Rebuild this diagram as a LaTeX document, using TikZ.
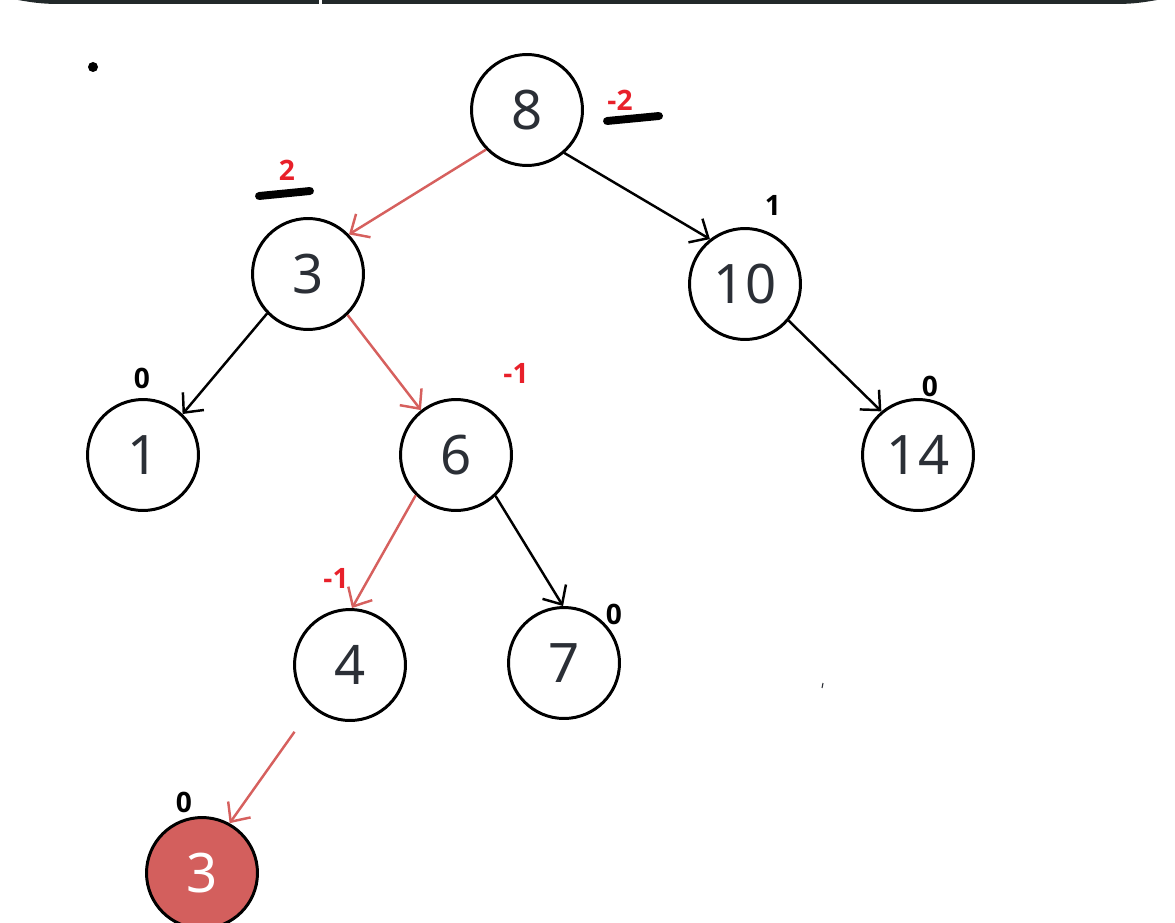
\documentclass[tikz,border=0pt]{standalone}
\usepackage{fontspec}
\setmainfont{Noto Sans}
\newfontfamily\balfont{Open Sans}
\usetikzlibrary{arrows.meta}
\definecolor{inkdark}{RGB}{43, 47, 54}
\definecolor{edgered}{RGB}{214, 96, 94}
\definecolor{fillred}{RGB}{211, 95, 93}
\definecolor{labelred}{RGB}{232, 32, 42}
\definecolor{topbar}{RGB}{34, 41, 42}

\begin{document}
\begin{tikzpicture}[
    x=0.02cm, y=-0.02cm,
    treenode/.style={draw, circle, line width=1.7pt, minimum size=2.22cm,
                     inner sep=0pt, text=inkdark,
                     font=\fontsize{31}{36}\selectfont},
    bal/.style={font=\balfont\bfseries\fontsize{16}{18}\selectfont, inner sep=0pt},
    edge/.style={line width=1.4pt, -{Straight Barb[length=3mm,width=5.5mm]}},
    penstroke/.style={line width=4.5pt, line cap=round},
  ]
    \useasboundingbox (0,0) rectangle (1175,922);
    \begin{scope}
    \clip (0,0) rectangle (1175,922);

    % top bar
    \fill[topbar] (18,0) .. controls (30,2) and (40,4) .. (60,4)
      -- (1115,4) .. controls (1135,4) and (1145,2) .. (1157,0) -- cycle;
    \fill[white] (319,0) rectangle (322,4);
    \fill (93,67) circle (5);
    \draw[line width=0.6pt, inkdark] (823,683) -- (822,688);

    % nodes
    \node[treenode] (n8)  at (527,110) {8};
    \node[treenode] (n3)  at (308,274) {3};
    \node[treenode] (n10) at (745,284) {10};
    \node[treenode] (n1)  at (143,455) {1};
    \node[treenode] (n6)  at (456,455) {6};
    \node[treenode] (n14) at (918,455) {14};
    \node[treenode] (n4)  at (350,665) {4};
    \node[treenode] (n7)  at (564,663) {7};
    \node[treenode, fill=fillred, text=white] (n3new) at (202,873) {3};

    % balance factors
    \node[bal, text=labelred] (b8)  at (620,100) {-2};
    \node[bal, text=labelred] (b3)  at (287,170) {2};
    \node[bal] (b10) at (773,205) {1};
    \node[bal] (b1)  at (142,378) {0};
    \node[bal, text=labelred] (b6)  at (516,373) {-1};
    \node[bal] (b14) at (930,386) {0};
    \node[bal, text=labelred] (b4)  at (336,578) {-1};
    \node[bal] (b7)  at (614,614) {0};
    \node[bal] (b3new) at (184,802) {0};

    % marker strokes
    \draw[penstroke] (607,121) -- (659,116);
    \draw[penstroke] (259,196) -- (310,191);

    % edges
    \draw[edge, edgered] (n8.224) -- (n3.44);
    \draw[edge] (n8.311) -- (n10.128);
    \draw[edge] (n3.224) -- (n1.46);
    \draw[edge, edgered] (n3.314) -- (n6.128);
    \draw[edge] (n10.320) -- (n14.130);
    \draw[edge, edgered] (n6.225) -- (n4.88);
    \draw[edge] (n6.314) -- (n7.91);
    \draw[edge, edgered, shorten <=0.6cm] (n4.228) -- (n3new.61);
    \end{scope}
  \end{tikzpicture}
\end{document}
